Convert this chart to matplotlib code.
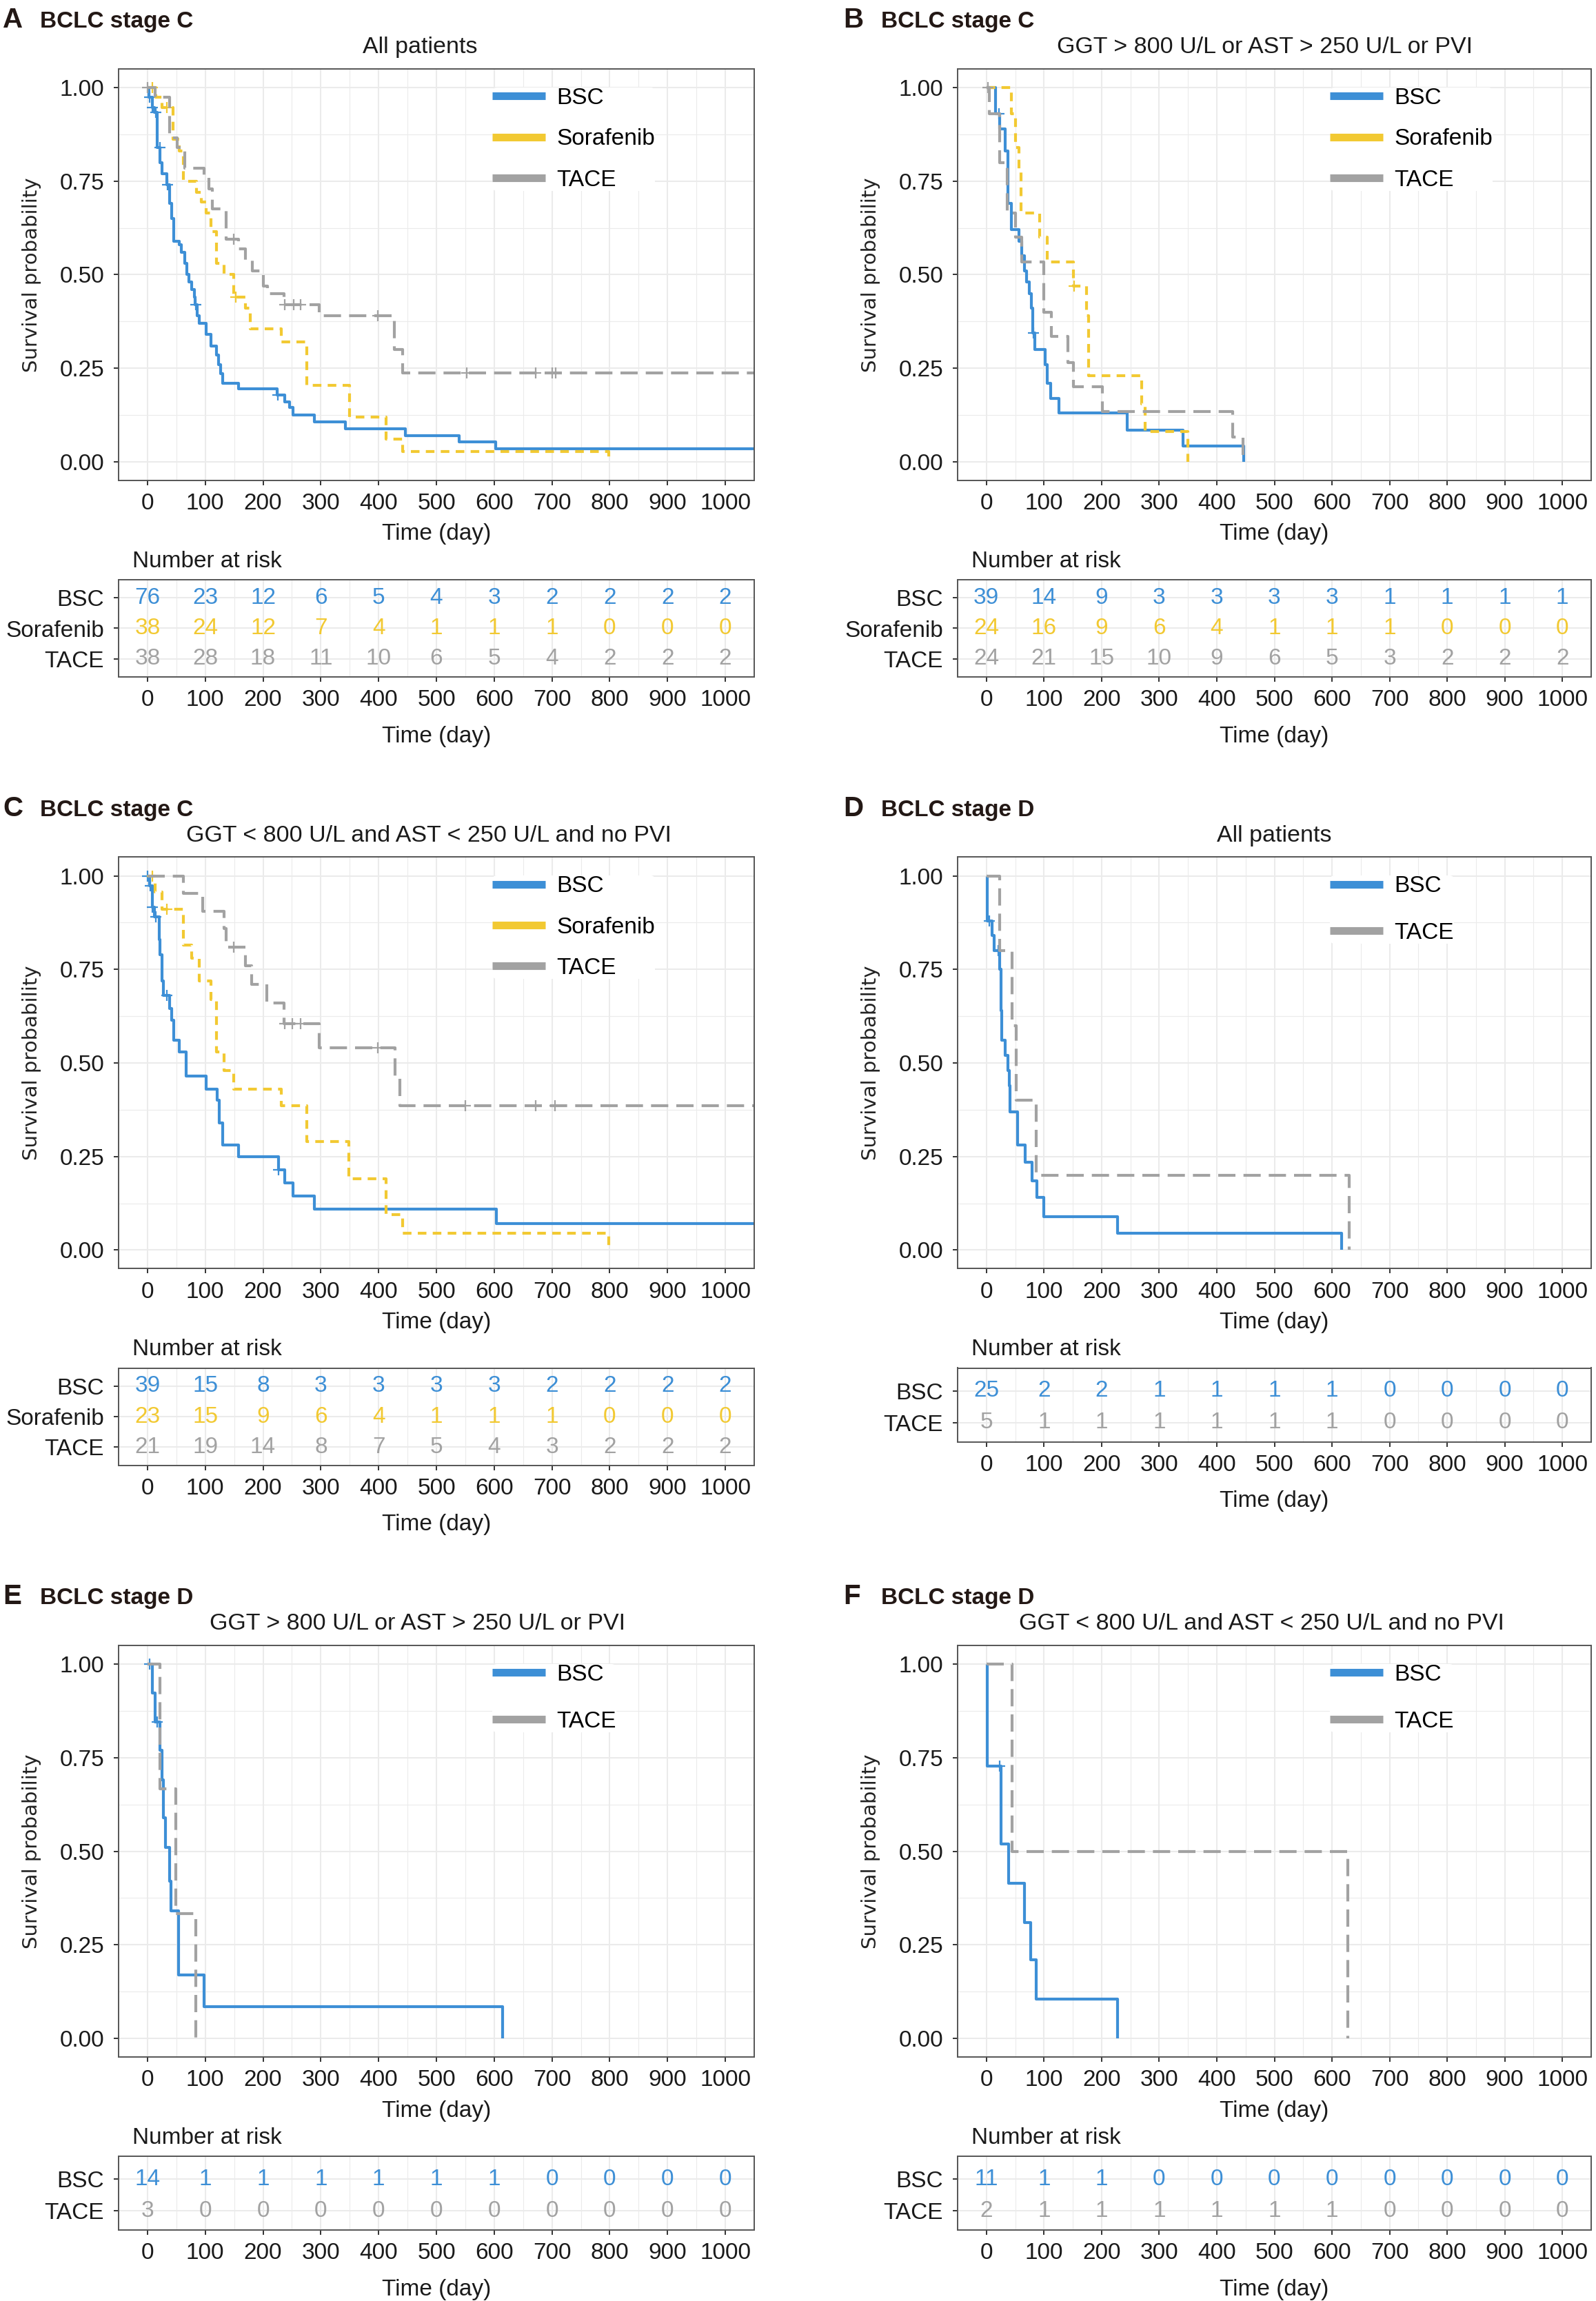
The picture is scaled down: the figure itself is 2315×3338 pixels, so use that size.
import numpy as np
import matplotlib
matplotlib.use("Agg")
import matplotlib.pyplot as plt
from matplotlib.lines import Line2D

plt.rcParams['font.family'] = ['Liberation Sans', 'DejaVu Sans']

BLUE = '#3d8fd6'
YELLOW = '#f2c932'
GREY = '#a2a2a2'

days = np.arange(0, 1001, 100)

# ---------------- A: BCLC C, all patients ----------------
a_bsc_t = [0, 3, 8, 12, 17, 22, 25, 34, 38, 42, 45, 55, 59, 64, 68, 72, 76, 81, 83, 86, 89,
           102, 110, 119, 123, 127, 130, 157, 224, 238, 246, 252, 289, 342, 446, 539, 603, 1100]
a_bsc_s = [1.0, 0.974, 0.947, 0.933, 0.84, 0.80, 0.77, 0.74, 0.69, 0.65, 0.59, 0.58, 0.56, 0.53,
           0.50, 0.48, 0.46, 0.44, 0.42, 0.39, 0.37, 0.34, 0.31, 0.285, 0.26, 0.235, 0.21, 0.195,
           0.178, 0.16, 0.145, 0.125, 0.107, 0.088, 0.07, 0.053, 0.035, 0.035]
a_bsc_cens = [4, 9, 15, 21, 35, 84, 226]
a_sor_t = [0, 15, 25, 44, 55, 62, 85, 93, 102, 110, 119, 132, 149, 170, 178, 231, 276, 350, 413, 441, 798]
a_sor_s = [1.0, 0.974, 0.947, 0.862, 0.83, 0.75, 0.72, 0.695, 0.665, 0.615, 0.53, 0.50, 0.44, 0.41,
           0.355, 0.32, 0.205, 0.12, 0.06, 0.028, 0.0]
a_sor_cens = [8, 34, 153]
a_tace_t = [0, 13, 38, 51, 64, 98, 106, 112, 136, 157, 170, 182, 201, 208, 236, 297, 427, 441, 1100]
a_tace_s = [1.0, 0.974, 0.865, 0.84, 0.785, 0.76, 0.73, 0.676, 0.595, 0.57, 0.54, 0.51, 0.47, 0.45,
            0.42, 0.39, 0.30, 0.237, 0.237]
a_tace_cens = [0, 149, 238, 253, 265, 399, 552, 672, 700, 706]
a_bsc_risk = [76, 23, 12, 6, 5, 4, 3, 2, 2, 2, 2]
a_sor_risk = [38, 24, 12, 7, 4, 1, 1, 1, 0, 0, 0]
a_tace_risk = [38, 28, 18, 11, 10, 6, 5, 4, 2, 2, 2]

# ---------------- B: BCLC C, GGT > 800 or AST > 250 or PVI ----------------
b_bsc_t = [0, 16, 23, 32, 37, 43, 57, 61, 66, 70, 75, 78, 81, 84, 102, 106, 111, 126, 244, 341, 447]
b_bsc_s = [1.0, 0.93, 0.89, 0.83, 0.69, 0.62, 0.59, 0.55, 0.51, 0.48, 0.45, 0.41, 0.345, 0.30,
           0.26, 0.21, 0.17, 0.13, 0.085, 0.043, 0.0]
b_bsc_cens = [22, 82]
b_sor_t = [0, 43, 50, 57, 60, 93, 106, 151, 174, 178, 270, 276, 350]
b_sor_s = [1.0, 0.93, 0.84, 0.78, 0.665, 0.60, 0.535, 0.47, 0.39, 0.23, 0.155, 0.08, 0.0]
b_sor_cens = [152]
b_tace_t = [0, 5, 23, 36, 50, 61, 100, 113, 141, 151, 201, 428, 445]
b_tace_s = [1.0, 0.93, 0.80, 0.665, 0.60, 0.535, 0.40, 0.335, 0.265, 0.20, 0.135, 0.067, 0.0]
b_tace_cens = [3]
b_bsc_risk = [39, 14, 9, 3, 3, 3, 3, 1, 1, 1, 1]
b_sor_risk = [24, 16, 9, 6, 4, 1, 1, 1, 0, 0, 0]
b_tace_risk = [24, 21, 15, 10, 9, 6, 5, 3, 2, 2, 2]

# ---------------- C: BCLC C, GGT < 800 and AST < 250 and no PVI ----------------
c_bsc_t = [0, 4, 8, 12, 20, 22, 25, 27, 38, 42, 45, 55, 67, 102, 121, 124, 130, 157, 227, 238,
           252, 289, 604, 1100]
c_bsc_s = [1.0, 0.973, 0.917, 0.89, 0.83, 0.79, 0.72, 0.68, 0.645, 0.615, 0.56, 0.53, 0.465, 0.43,
           0.40, 0.34, 0.28, 0.25, 0.215, 0.18, 0.145, 0.11, 0.07, 0.07]
c_bsc_cens = [0, 5, 9, 14, 34, 227]
c_sor_t = [0, 13, 25, 62, 76, 89, 110, 119, 132, 149, 231, 276, 348, 413, 441, 798]
c_sor_s = [1.0, 0.957, 0.91, 0.815, 0.78, 0.72, 0.67, 0.53, 0.48, 0.43, 0.385, 0.29, 0.19, 0.095,
           0.045, 0.0]
c_sor_cens = [8, 34]
c_tace_t = [0, 62, 96, 132, 136, 170, 180, 206, 236, 297, 429, 437, 1100]
c_tace_s = [1.0, 0.953, 0.905, 0.86, 0.81, 0.76, 0.71, 0.66, 0.605, 0.54, 0.46, 0.385, 0.385]
c_tace_cens = [149, 238, 251, 265, 399, 550, 672, 705]
c_bsc_risk = [39, 15, 8, 3, 3, 3, 3, 2, 2, 2, 2]
c_sor_risk = [23, 15, 9, 6, 4, 1, 1, 1, 0, 0, 0]
c_tace_risk = [21, 19, 14, 8, 7, 5, 4, 3, 2, 2, 2]

# ---------------- D: BCLC D, all patients ----------------
d_bsc_t = [0, 1, 10, 14, 23, 25, 27, 32, 37, 40, 41, 54, 67, 79, 88, 100, 228, 617]
d_bsc_s = [1.0, 0.88, 0.84, 0.80, 0.75, 0.64, 0.56, 0.52, 0.48, 0.44, 0.37, 0.28, 0.235, 0.185,
           0.14, 0.09, 0.045, 0.0]
d_bsc_cens = [5, 21]
d_tace_t = [0, 23, 45, 52, 86, 630]
d_tace_s = [1.0, 0.80, 0.60, 0.40, 0.20, 0.0]
d_tace_cens = []
d_bsc_risk = [25, 2, 2, 1, 1, 1, 1, 0, 0, 0, 0]
d_tace_risk = [5, 1, 1, 1, 1, 1, 1, 0, 0, 0, 0]

# ---------------- E: BCLC D, GGT > 800 or AST > 250 or PVI ----------------
e_bsc_t = [0, 8, 13, 21, 25, 28, 31, 38, 41, 54, 98, 614]
e_bsc_s = [1.0, 0.923, 0.846, 0.77, 0.69, 0.59, 0.51, 0.42, 0.34, 0.17, 0.085, 0.0]
e_bsc_cens = [4, 17]
e_tace_t = [0, 21, 49, 84]
e_tace_s = [1.0, 0.667, 0.333, 0.0]
e_tace_cens = []
e_bsc_risk = [14, 1, 1, 1, 1, 1, 1, 0, 0, 0, 0]
e_tace_risk = [3, 0, 0, 0, 0, 0, 0, 0, 0, 0, 0]

# ---------------- F: BCLC D, GGT < 800 and AST < 250 and no PVI ----------------
f_bsc_t = [0, 1, 2, 25, 26, 39, 66, 77, 86, 228]
f_bsc_s = [1.0, 0.818, 0.727, 0.62, 0.52, 0.415, 0.31, 0.21, 0.104, 0.0]
f_bsc_cens = [23]
f_tace_t = [0, 45, 628]
f_tace_s = [1.0, 0.5, 0.0]
f_tace_cens = []
f_bsc_risk = [11, 1, 1, 0, 0, 0, 0, 0, 0, 0, 0]
f_tace_risk = [2, 1, 1, 1, 1, 1, 1, 0, 0, 0, 0]

styles = {'BSC': (BLUE, '-'),
          'Sorafenib': (YELLOW, (0, (3, 2.2))),
          'TACE': (GREY, (0, (6, 2.8)))}

# letter, stage, subtitle, column, row, title shift (px), groups
panels = [
    ('A', 'BCLC stage C', 'All patients', 0, 0, -24,
     [('BSC', a_bsc_t, a_bsc_s, a_bsc_cens, a_bsc_risk),
      ('Sorafenib', a_sor_t, a_sor_s, a_sor_cens, a_sor_risk),
      ('TACE', a_tace_t, a_tace_s, a_tace_cens, a_tace_risk)]),
    ('B', 'BCLC stage C', 'GGT > 800 U/L or AST > 250 U/L or PVI', 1, 0, -14,
     [('BSC', b_bsc_t, b_bsc_s, b_bsc_cens, b_bsc_risk),
      ('Sorafenib', b_sor_t, b_sor_s, b_sor_cens, b_sor_risk),
      ('TACE', b_tace_t, b_tace_s, b_tace_cens, b_tace_risk)]),
    ('C', 'BCLC stage C', 'GGT < 800 U/L and AST < 250 U/L and no PVI', 0, 1, -11,
     [('BSC', c_bsc_t, c_bsc_s, c_bsc_cens, c_bsc_risk),
      ('Sorafenib', c_sor_t, c_sor_s, c_sor_cens, c_sor_risk),
      ('TACE', c_tace_t, c_tace_s, c_tace_cens, c_tace_risk)]),
    ('D', 'BCLC stage D', 'All patients', 1, 1, 0,
     [('BSC', d_bsc_t, d_bsc_s, d_bsc_cens, d_bsc_risk),
      ('TACE', d_tace_t, d_tace_s, d_tace_cens, d_tace_risk)]),
    ('E', 'BCLC stage D', 'GGT > 800 U/L or AST > 250 U/L or PVI', 0, 2, -27,
     [('BSC', e_bsc_t, e_bsc_s, e_bsc_cens, e_bsc_risk),
      ('TACE', e_tace_t, e_tace_s, e_tace_cens, e_tace_risk)]),
    ('F', 'BCLC stage D', 'GGT < 800 U/L and AST < 250 U/L and no PVI', 1, 2, -19,
     [('BSC', f_bsc_t, f_bsc_s, f_bsc_cens, f_bsc_risk),
      ('TACE', f_tace_t, f_tace_s, f_tace_cens, f_tace_risk)]),
]

W, H = 2315, 3338
fig = plt.figure(figsize=(W / 100, H / 100), dpi=100)

col_x = [(172, 1094), (1389, 2308)]
letter_x = [4, 1223]
stage_x = [58, 1278]
ROW_PITCH = 1143.5
PLOT_TOP = 100
PLOT_H = 597


def add_ax(left, top, right, bottom):
    return fig.add_axes([left / W, 1 - bottom / H, (right - left) / W, (bottom - top) / H])


def frame(ax):
    ax.set_xlim(-50, 1050)
    ax.set_xticks(days)
    ax.set_xticks(np.arange(50, 1000, 100), minor=True)
    ax.grid(which='major', color='#ebebeb', lw=1.5)
    ax.grid(which='minor', axis='x', color='#ebebeb', lw=0.8)
    ax.set_axisbelow(True)
    for sp in ax.spines.values():
        sp.set_color('#555555')
        sp.set_linewidth(1.4)
    ax.tick_params(which='major', length=5, width=1.4, color='#333333',
                   labelsize=24, labelcolor='#1a1a1a')
    ax.tick_params(axis='x', pad=8)
    ax.tick_params(axis='y', pad=10)
    ax.tick_params(which='minor', length=0)


for letter, stage, title, col, row, shift, groups in panels:
    left, right = col_x[col]
    top = PLOT_TOP + row * ROW_PITCH
    ax = add_ax(left, top, right, top + PLOT_H)
    frame(ax)
    ax.set_ylim(-0.05, 1.05)
    ax.set_yticks([0, 0.25, 0.5, 0.75, 1.0])
    ax.set_yticklabels(['0.00', '0.25', '0.50', '0.75', '1.00'])
    ax.set_yticks([0.125, 0.375, 0.625, 0.875], minor=True)
    ax.grid(which='minor', axis='y', color='#ebebeb', lw=0.8)

    names = [g[0] for g in groups]
    for name, t, s, cens, risk in groups:
        color, ls = styles[name]
        ax.step(t, s, where='post', color=color, lw=3, linestyle=ls,
                dash_capstyle='butt', solid_capstyle='butt')
        if len(cens):
            idx = np.searchsorted(t, cens, side='right') - 1
            ax.plot(cens, np.array(s)[idx], ls='none', marker='+', ms=11, mew=1.6, color=color)

    handles = [Line2D([], [], color=styles[n][0], lw=8, solid_capstyle='butt') for n in names]
    ax.legend(handles, names, loc='upper left', bbox_to_anchor=(0.588, 0.955),
              frameon=True, facecolor='white', edgecolor='none', framealpha=1,
              fontsize=24, handlelength=2.3, handletextpad=0.5,
              labelspacing=0.85 if len(names) == 3 else 1.1,
              borderpad=0, borderaxespad=0)

    ax.set_xlabel('Time (day)', fontsize=24, va='center', color='#1a1a1a')
    ax.xaxis.set_label_coords(0.5, -78 / PLOT_H)
    ax.set_ylabel('Survival probability', fontsize=21, family='DejaVu Sans',
                  va='center', color='#222222')
    ax.yaxis.set_label_coords(-126 / (right - left), 0.5)
    ax.annotate(title, xy=(0.5, 1), xycoords='axes fraction', xytext=(shift * 0.72, 16.5),
                textcoords='offset points', ha='center', va='baseline', fontsize=24.5,
                color='#1a1a1a')

    base = top - 60
    fig.text(letter_x[col] / W, 1 - base / H, letter, fontsize=29, fontweight='bold',
             va='baseline', color='#231815')
    fig.text(stage_x[col] / W, 1 - base / H, stage, fontsize=24, fontweight='bold',
             va='baseline', color='#231815')

    # number at risk table
    n = len(groups)
    rtop = top + 741
    rh = 141 if n == 3 else 107
    rax = add_ax(left, rtop, right, rtop + rh)
    frame(rax)
    rax.set_ylim(0.4, n + 0.6 if n == 3 else n + 0.72)
    rows = list(range(n, 0, -1))
    rax.set_yticks(rows)
    rax.set_yticklabels(names)
    for (name, t, s, cens, risk), r in zip(groups, rows):
        color = styles[name][0]
        for d, v in zip(days, risk):
            rax.text(d, r, str(v), color=color, ha='center', va='center', fontsize=24)
    rax.set_xlabel('Time (day)', fontsize=24, va='center', color='#1a1a1a')
    rax.xaxis.set_label_coords(0.5, -86 / rh)
    rax.annotate('Number at risk', xy=(0, 1), xycoords='axes fraction', xytext=(14.4, 13),
                 textcoords='offset points', ha='left', va='baseline', fontsize=24,
                 color='#1a1a1a')

fig.savefig('out.png', dpi=100, facecolor='white')
